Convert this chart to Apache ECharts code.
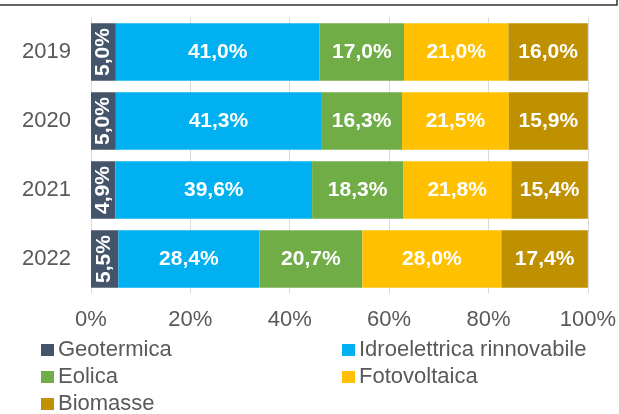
<!DOCTYPE html>
<html>
<head>
<meta charset="utf-8">
<script src="https://cdn.jsdelivr.net/npm/echarts@6/dist/echarts.min.js"></script>
<style>
  html, body { margin: 0; padding: 0; background: #fff; }
  #chart { width: 619px; height: 414px; }
</style>
</head>
<body>
<div id="chart"></div>
<script>
const years = ["2019", "2020", "2021", "2022"];
const geotermica = [5.0, 5.0, 4.9, 5.5];
const idroelettrica = [41.0, 41.3, 39.6, 28.4];
const eolica = [17.0, 16.3, 18.3, 20.7];
const fotovoltaica = [21.0, 21.5, 21.8, 28.0];
const biomasse = [16.0, 15.9, 15.4, 17.4];
const xTicks = [0, 20, 40, 60, 80, 100];

const font = "Liberation Sans, Arial, sans-serif";
const fmt = (p) => p.value.toFixed(1).replace(".", ",") + "%";

function bar(name, data, color, rotate) {
  return {
    name: name,
    type: "bar",
    stack: "total",
    data: data,
    barCategoryGap: "17%",
    itemStyle: { color: color },
    label: {
      show: true,
      formatter: fmt,
      color: "#fff",
      fontFamily: font,
      fontWeight: "bold",
      fontSize: 21,
      rotate: rotate || 0,
    },
    emphasis: { disabled: true },
  };
}

// one legend per entry so the two-column layout matches
function legendItem(name, left, top) {
  return {
    left: left,
    top: top,
    itemWidth: 13,
    itemHeight: 12,
    icon: "rect",
    data: [name],
    textStyle: { color: "#595959", fontFamily: font, fontSize: 22, padding: [0, 0, 0, -1] },
  };
}

const chart = echarts.init(document.getElementById("chart"));
chart.setOption({
  animation: false,
  grid: { left: 91, right: 29, top: 17.5, bottom: 120.5 },
  xAxis: {
    type: "value",
    min: 0,
    max: 100,
    interval: 20,
    axisLine: { show: false },
    axisTick: { show: false },
    splitLine: { lineStyle: { color: "#d9d9d9", width: 1 } },
    axisLabel: {
      formatter: (v) => (xTicks.includes(v) ? v + "%" : ""),
      color: "#595959",
      fontFamily: font,
      fontSize: 22,
      margin: 15,
    },
  },
  yAxis: {
    type: "category",
    data: years,
    inverse: true,
    axisLine: { show: false },
    axisTick: { show: false },
    axisLabel: { color: "#595959", fontFamily: font, fontSize: 22, margin: 20 },
  },
  legend: [
    legendItem("Geotermica", 36, 334),
    legendItem("Eolica", 36, 361),
    legendItem("Biomasse", 36, 388),
    legendItem("Idroelettrica rinnovabile", 337, 334),
    legendItem("Fotovoltaica", 337, 361),
  ],
  graphic: [
    {
      type: "polyline",
      shape: { points: [[0, 5], [617, 5], [617, 0]] },
      style: { stroke: "#333", lineWidth: 1.5, fill: null },
    },
  ],
  series: [
    bar("Geotermica", geotermica, "#44546a", 90),
    bar("Idroelettrica rinnovabile", idroelettrica, "#00b0f0"),
    bar("Eolica", eolica, "#70ad47"),
    bar("Fotovoltaica", fotovoltaica, "#ffc000"),
    bar("Biomasse", biomasse, "#bf9000"),
  ],
});
</script>
</body>
</html>
